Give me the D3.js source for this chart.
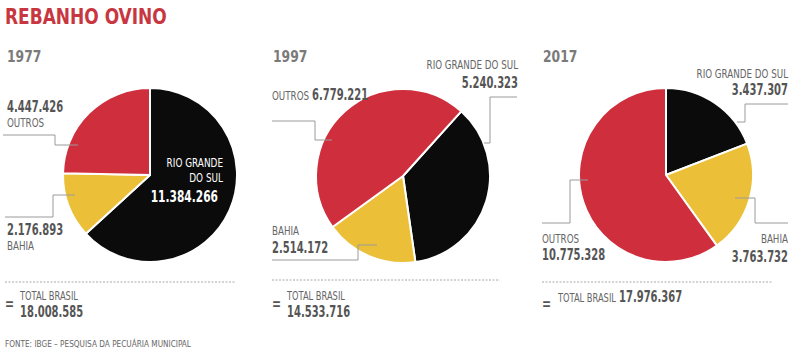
<!DOCTYPE html>
<html>
<head>
<meta charset="utf-8">
<script src="https://cdn.jsdelivr.net/npm/d3@7"></script>
<style>
  body { margin: 0; background: #fff; }
  svg text { font-family: "DejaVu Sans Condensed", "DejaVu Sans", sans-serif; font-stretch: condensed; }
</style>
</head>
<body>
<div id="chart"></div>
<script>

// data
const years = [ '1977', '1997', '2017' ];
const regions = [ 'RIO GRANDE DO SUL', 'BAHIA', 'OUTROS' ];
const sheep1977 = [ 11384266, 2176893, 4447426 ];
const sheep1997 = [ 5240323, 2514172, 6779221 ];
const sheep2017 = [ 3437307, 3763732, 10775328 ];
const totals = [ 18008585, 14533716, 17976367 ];
const startDegrees = [ 0, 42, 0 ];

const series = [ sheep1977, sheep1997, sheep2017 ];
const colors = [ '#0b0b0b', '#ebc038', '#cf2f3d' ];

const width = 800;
const height = 354;
const radius = 87;
const centers = [ [ 150, 175 ], [ 403, 176 ], [ 666, 175 ] ];

const numColor = '#555';
const labelColor = '#666';
const lineColor = '#9a9a9a';

// the newspaper face is very narrow, so text gets squeezed horizontally
const numScale = 0.74;
const labelScale = 0.81;

const locale = d3.formatLocale( { decimal: ',', thousands: '.', grouping: [ 3 ], currency: [ '', '' ] } );
const fmt = locale.format( ',d' );

const svg = d3.select( '#chart' )
  .append( 'svg' )
  .attr( 'width', width )
  .attr( 'height', height );

/**
 * Adds a horizontally squeezed text
 */
function addText( x, y, str, opts ) {
  const o = Object.assign( { size: 12, weight: 'normal', fill: labelColor, anchor: 'start', sx: labelScale }, opts );
  return svg.append( 'g' )
    .attr( 'transform', `translate(${x},${y}) scale(${o.sx},1)` )
    .append( 'text' )
    .attr( 'text-anchor', o.anchor )
    .attr( 'fill', o.fill )
    .style( 'font-size', o.size + 'px' )
    .style( 'font-weight', o.weight )
    .text( str );
}

function numberText( x, y, value, anchor, size, fill ) {
  return addText( x, y, fmt( value ), {
    anchor: anchor || 'start', size: size || 15, weight: 'bold', fill: fill || numColor, sx: numScale
  } );
}

function labelText( x, y, label, anchor, fill ) {
  return addText( x, y, label, { anchor: anchor || 'start', fill: fill || labelColor } );
}

function leader( points ) {
  svg.append( 'path' )
    .attr( 'd', d3.line()( points ) )
    .attr( 'fill', 'none' )
    .attr( 'stroke', lineColor )
    .attr( 'stroke-width', 1 );
}

// title
addText( 5, 24, 'REBANHO OVINO', { size: 22, weight: 'bold', fill: '#c8363f', sx: 0.86 } );

const arc = d3.arc().innerRadius( 0 ).outerRadius( radius );

// pies
series.forEach( ( values, i ) => {

  const pie = d3.pie()
    .sort( null )
    .startAngle( startDegrees[ i ] * Math.PI / 180 )
    .endAngle( startDegrees[ i ] * Math.PI / 180 + 2 * Math.PI );

  const g = svg.append( 'g' )
    .attr( 'transform', `translate(${centers[ i ][ 0 ]},${centers[ i ][ 1 ]})` );

  g.selectAll( 'path' )
    .data( pie( values ) )
    .join( 'path' )
    .attr( 'd', arc )
    .attr( 'fill', ( d, j ) => colors[ j ] )
    .attr( 'stroke', '#fff' )
    .attr( 'stroke-width', 2 )
    .attr( 'stroke-linejoin', 'round' );

} );

// year headings
const yearX = [ 7, 273, 543 ];
years.forEach( ( y, i ) => {
  addText( yearX[ i ], 62, y, { size: 16, weight: 'bold', fill: '#7a7a7a', sx: 0.86 } );
} );

// 1977 labels
numberText( 7, 112, sheep1977[ 2 ] );
labelText( 7, 127, regions[ 2 ] );
leader( [ [ 3, 135 ], [ 55, 135 ], [ 55, 145 ], [ 78, 145 ] ] );

leader( [ [ 75, 195 ], [ 53, 195 ], [ 53, 217 ], [ 5, 217 ] ] );
numberText( 7, 235, sheep1977[ 1 ] );
labelText( 7, 250, regions[ 1 ] );

addText( 223, 167, 'RIO GRANDE', { anchor: 'end', fill: '#fff', sx: 0.76, size: 13 } );
addText( 223, 182, 'DO SUL', { anchor: 'end', fill: '#fff', sx: 0.76, size: 13 } );
numberText( 218, 202, sheep1977[ 0 ], 'end', 16, '#fff' );

// 1997 labels
labelText( 518, 69, regions[ 0 ], 'end' );
numberText( 518, 88, sheep1997[ 0 ], 'end' );
leader( [ [ 517, 97 ], [ 490, 97 ], [ 490, 143 ], [ 484, 143 ] ] );

labelText( 272, 100, regions[ 2 ] );
numberText( 312, 100, sheep1997[ 2 ] );
leader( [ [ 272, 121 ], [ 315, 121 ], [ 315, 140 ], [ 332, 140 ] ] );

labelText( 272, 235, regions[ 1 ] );
numberText( 272, 253, sheep1997[ 1 ] );
leader( [ [ 377, 245 ], [ 358, 245 ], [ 358, 260 ], [ 272, 260 ] ] );

// 2017 labels
labelText( 788, 78, regions[ 0 ], 'end' );
numberText( 788, 95, sheep2017[ 0 ], 'end' );
leader( [ [ 788, 104 ], [ 745, 104 ], [ 745, 122 ], [ 737, 122 ] ] );

leader( [ [ 735, 198 ], [ 755, 198 ], [ 755, 223 ], [ 788, 223 ] ] );
labelText( 788, 243, regions[ 1 ], 'end' );
numberText( 788, 262, sheep2017[ 1 ], 'end' );

leader( [ [ 588, 180 ], [ 570, 180 ], [ 570, 223 ], [ 542, 223 ] ] );
labelText( 542, 243, regions[ 2 ] );
numberText( 542, 260, sheep2017[ 2 ] );

// totals
const totalLayout = [
  { x0: 5, x1: 235, lineY: 282, eqX: 5, tx: 20, ty: 300, nx: 20, ny: 317 },
  { x0: 272, x1: 500, lineY: 280, eqX: 272, tx: 287, ty: 300, nx: 287, ny: 317 },
  { x0: 542, x1: 772, lineY: 282, eqX: 542, tx: 558, ty: 302, nx: 619, ny: 302 }
];

totalLayout.forEach( ( t, i ) => {

  svg.append( 'line' )
    .attr( 'x1', t.x0 )
    .attr( 'x2', t.x1 )
    .attr( 'y1', t.lineY )
    .attr( 'y2', t.lineY )
    .attr( 'stroke', '#a8a8a8' )
    .attr( 'stroke-width', 1 )
    .attr( 'stroke-dasharray', '2,1.5' );

  addText( t.eqX, 309, '=', { size: 15, weight: 'bold', fill: numColor, sx: 0.8 } );
  addText( t.tx, t.ty, 'TOTAL BRASIL', { sx: 0.77 } );
  numberText( t.nx, t.ny, totals[ i ] );

} );

// source
addText( 5, 347, 'FONTE: IBGE – PESQUISA DA PECUÁRIA MUNICIPAL', { size: 9.5, sx: 0.86 } );

</script>
</body>
</html>
